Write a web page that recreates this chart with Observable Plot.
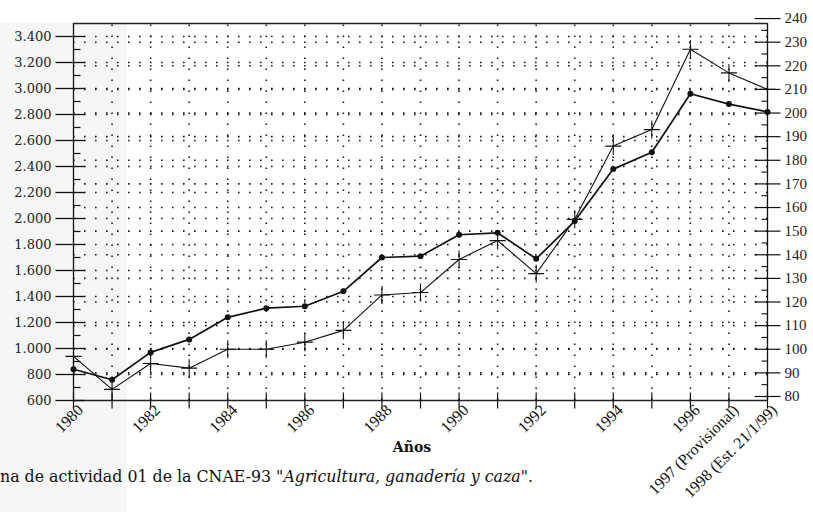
<!DOCTYPE html>
<html>
<head>
<meta charset="utf-8">
<script src="https://cdn.jsdelivr.net/npm/d3@7"></script>
<script src="https://cdn.jsdelivr.net/npm/@observablehq/plot@0.6"></script>
<style>
  html, body { margin: 0; padding: 0; background: #fff; }
  #wrap { position: relative; width: 813px; height: 512px; overflow: hidden; }
  #shade { position: absolute; left: 0; top: 23px; width: 127px; height: 489px; background: #f6f6f6; }
  #chart { position: absolute; left: 0; top: 0; }
  #xlabel { position: absolute; left: 412px; top: 439px; transform: translateX(-50%);
            font: bold 14px "DejaVu Serif", serif; color: #111; }
  #caption { position: absolute; left: 0px; top: 467px; white-space: nowrap;
             font: 15.8px "DejaVu Serif", serif; color: #111; }
</style>
</head>
<body>
<div id="wrap">
  <div id="shade"></div>
  <div id="chart"></div>
  <div id="xlabel">Años</div>
  <div id="caption">na de actividad 01 de la CNAE-93 "<i>Agricultura, ganadería y caza</i>".</div>
</div>
<script>
// ---- data ----
const years = [1980,1981,1982,1983,1984,1985,1986,1987,1988,1989,1990,1991,1992,1993,1994,1995,1996,1997,1998];
// series with filled dots (left axis)
const seriesDots = [840,760,970,1070,1240,1310,1325,1440,1700,1710,1875,1890,1690,1980,2380,2510,2960,2880,2820];
// series with cross markers (right axis)
const seriesCross = [97,83,94,92,100,100,103,108,123,124,138,146,132,155,186,193,227,217,210];
// tick labels
const leftTicks = [600,800,1000,1200,1400,1600,1800,2000,2200,2400,2600,2800,3000,3200,3400];
const rightTicks = [80,90,100,110,120,130,140,150,160,170,180,190,200,210,220,230,240];
const xTickYears = [1980,1982,1984,1986,1988,1990,1992,1994,1996,1997,1998];
const xTickLabels = ["1980","1982","1984","1986","1988","1990","1992","1994","1996","1997 (Provisional)","1998 (Est. 21/1/99)"];

// ---- helpers ----
const labelMap = new Map(xTickYears.map((y, i) => [y, xTickLabels[i]]));
// right axis (80..240) expressed in left-axis units
const toLeft = v => 630.8 + (v - 80) * 18.17;
const fmtLeft = d => d3.format(",")(d).replace(/,/g, ".");
const segs = (...s) => ({draw(ctx) { for (const [x1, y1, x2, y2] of s) { ctx.moveTo(x1, y1); ctx.lineTo(x2, y2); } }});

const rows = years.map((year, i) => ({year, a: seriesDots[i], b: seriesCross[i]}));
const leftMinor = d3.range(700, 3500, 200);
const rightMinor = d3.range(85, 240, 10);
const gridRows = leftTicks.slice(1).concat(rightTicks.slice(1, -1).map(toLeft));
const gridCols = years.slice(1, -1);

const serif = "Liberation Serif";
const plot = Plot.plot({
  width: 813,
  height: 512,
  marginLeft: 73,
  marginRight: 46,
  marginTop: 23,
  marginBottom: 112,
  style: {background: "none"},
  x: {domain: [1980, 1998]},
  y: {domain: [600, 3500]},
  marks: [
    // dotted grid
    Plot.ruleY(gridRows, {x1: 1980, x2: 1998, y: d => d, stroke: "#1a1a1a", strokeWidth: 1.6, strokeDasharray: "1.6,9.4"}),
    Plot.ruleX(gridCols, {x: d => d, y1: 600, y2: 3500, stroke: "#1a1a1a", strokeWidth: 1.6, strokeDasharray: "1.6,9.4"}),
    // frame
    Plot.ruleX([1980, 1998], {x: d => d, y1: 600, y2: 3500, stroke: "#111", strokeWidth: 1.3}),
    Plot.ruleY([600, 3500], {y: d => d, x1: 1980, x2: 1998, stroke: "#222", strokeWidth: 1.4}),
    // tick marks
    Plot.dot(leftTicks, {x: 1980, y: d => d, symbol: segs([-18, 0, 11, 0]), fill: "none", stroke: "#111", strokeWidth: 1.3}),
    Plot.dot(leftMinor, {x: 1980, y: d => d, symbol: segs([0, 0, 7, 0]), fill: "none", stroke: "#111", strokeWidth: 1.2}),
    Plot.dot(rightTicks, {x: 1998, y: toLeft, symbol: segs([-13, 0, 13, 0]), fill: "none", stroke: "#111", strokeWidth: 1.2}),
    Plot.dot(rightMinor, {x: 1998, y: toLeft, symbol: segs([-6, 0, 0, 0]), fill: "none", stroke: "#111", strokeWidth: 1.1}),
    Plot.dot(years, {x: d => d, y: 600, symbol: segs([0, -8, 0, 8]), fill: "none", stroke: "#111", strokeWidth: 1.2}),
    // axes labels
    Plot.axisY({anchor: "left", ticks: leftTicks, tickSize: 0, tickPadding: 22, tickFormat: fmtLeft, label: null,
                fontSize: 13, fontFamily: "DejaVu Serif", fill: "#222"}),
    Plot.text(rightTicks, {x: 1998, y: toLeft, text: d => String(d), dx: 17, textAnchor: "start",
                fontSize: 15, fontFamily: serif, fill: "#222"}),
    Plot.axisX({anchor: "bottom", ticks: xTickYears, tickFormat: d => labelMap.get(d), tickSize: 0, tickPadding: 7,
                tickRotate: -45, label: null, fontSize: 16, fontFamily: serif, fill: "#111", dx: 7}),
    // series
    Plot.line(rows, {x: "year", y: d => toLeft(d.b), stroke: "#111", strokeWidth: 1.1}),
    Plot.dot(rows, {x: "year", y: d => toLeft(d.b), symbol: segs([-8, 0, 8, 0], [0, -9, 0, 9]), fill: "none", stroke: "#111", strokeWidth: 1.1}),
    Plot.line(rows, {x: "year", y: "a", stroke: "#111", strokeWidth: 1.7}),
    Plot.dot(rows, {x: "year", y: "a", r: 3, fill: "#111", stroke: "none"})
  ]
});
document.getElementById("chart").appendChild(plot);
</script>
</body>
</html>
